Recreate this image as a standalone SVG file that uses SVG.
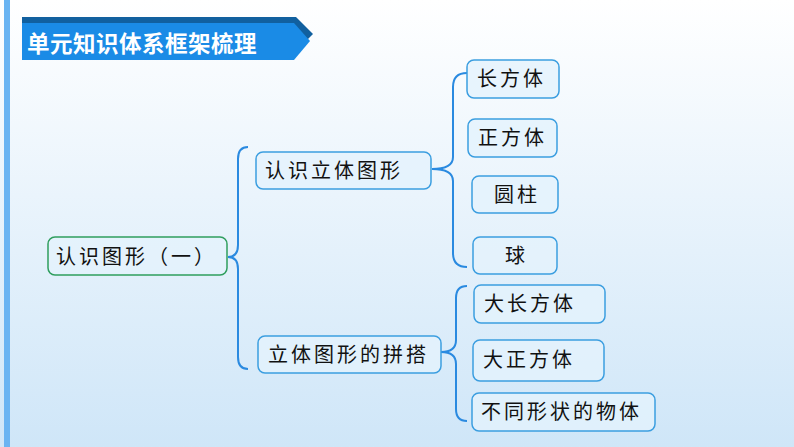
<svg xmlns="http://www.w3.org/2000/svg" width="794" height="447" viewBox="0 0 794 447">
<defs>
<linearGradient id="bg" x1="0" y1="0" x2="0" y2="1">
<stop offset="0" stop-color="#ffffff"/>
<stop offset="1" stop-color="#cfe6f8"/>
</linearGradient>
<style>
.n rect{fill:#e4f2fc;fill-opacity:0.8;stroke:#3b9ee0;stroke-width:1.5}
.n text{font-family:"Noto Sans CJK SC","Noto Sans CJK TC",sans-serif;font-size:20px;fill:#111;letter-spacing:3px}
#root rect{stroke:#2f9e5e}
.br{fill:none;stroke:#2a8ae0;stroke-width:2}
</style>
</defs>
<rect width="794" height="447" fill="url(#bg)"/>
<rect x="4" y="0" width="6" height="447" fill="#6ab4f2"/>
<g id="title">
<polygon points="22,17 296,17 313,34 302,45 22,45" fill="#11609f"/>
<polygon points="22,23 294,23 310,41 294,60 22,60" fill="#1a8be6"/>
<text x="27" y="52" font-family="'Noto Sans CJK SC',sans-serif" font-weight="bold" font-size="22.5" fill="#ffffff" letter-spacing="0.5">单元知识体系框架梳理</text>
</g>
<g id="connectors">
<path class="br" d="M248,147 Q238,147 238,159 L238,245 Q238,257 228,257 Q238,257 238,269 L238,357 Q238,369 248,369"/>
<path class="br" d="M467,73 Q453,73 453,87 L453,157 Q453,169 432,169 Q453,169 453,181 L453,253 Q453,267 467,267"/>
<path class="br" d="M467,286 Q456,286 456,298 L456,340 Q456,352 441,352 Q456,352 456,364 L456,409 Q456,421 467,421"/>
</g>
<g id="root" class="n"><rect x="48" y="237" width="179" height="38" rx="7"/><text x="56" y="264">认识图形（一）</text></g>
<g id="n1" class="n"><rect x="256" y="152" width="175" height="37" rx="7"/><text x="265" y="178">认识立体图形</text></g>
<g id="n2" class="n"><rect x="258" y="336" width="183" height="37" rx="7"/><text x="268" y="362">立体图形的拼搭</text></g>
<g id="l1" class="n"><rect x="467" y="60" width="92" height="38" rx="7"/><text x="477" y="86">长方体</text></g>
<g id="l2" class="n"><rect x="468" y="119" width="89" height="38" rx="7"/><text x="478" y="145">正方体</text></g>
<g id="l3" class="n"><rect x="472" y="176" width="86" height="37" rx="7"/><text x="494" y="202">圆柱</text></g>
<g id="l4" class="n"><rect x="473" y="237" width="84" height="37" rx="7"/><text x="505" y="263">球</text></g>
<g id="l5" class="n"><rect x="474" y="285" width="131" height="38" rx="7"/><text x="484" y="311">大长方体</text></g>
<g id="l6" class="n"><rect x="473" y="340" width="131" height="41" rx="7"/><text x="483" y="367">大正方体</text></g>
<g id="l7" class="n"><rect x="472" y="393" width="183" height="38" rx="7"/><text x="481" y="419">不同形状的物体</text></g>
</svg>
